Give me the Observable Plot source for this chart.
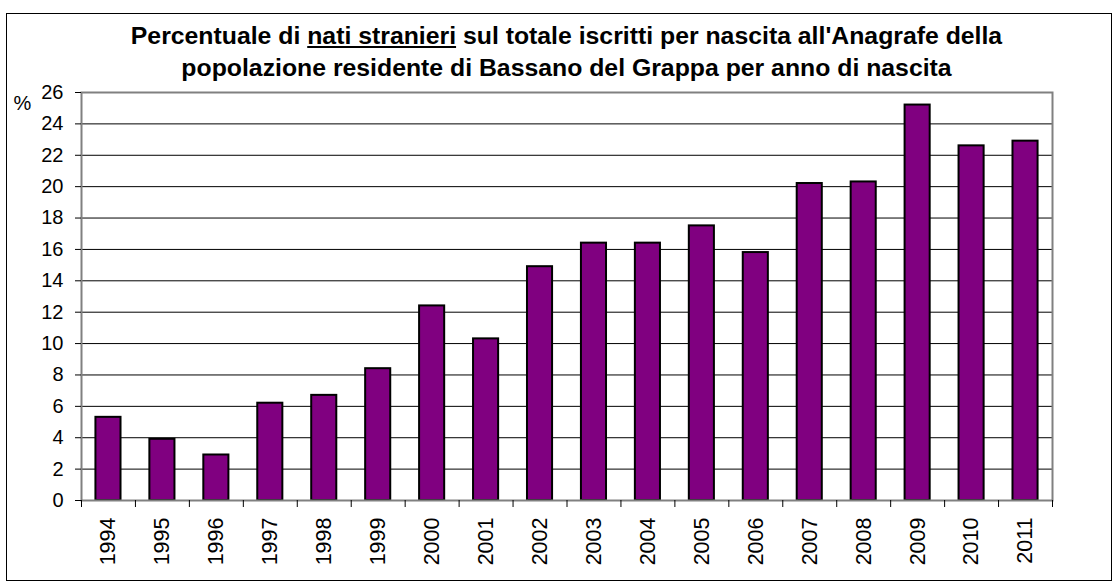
<!DOCTYPE html>
<html>
<head>
<meta charset="utf-8">
<script src="https://cdn.jsdelivr.net/npm/d3@7"></script>
<script src="https://cdn.jsdelivr.net/npm/@observablehq/plot@0.6"></script>
<style>
  html, body { margin: 0; padding: 0; background: #fff; overflow: hidden; }
  #wrap { position: relative; width: 1117px; height: 584px; font-family: "Liberation Sans", Arial, sans-serif; }
  #border { position: absolute; left: 6px; top: 13px; width: 1104px; height: 566px; border: 1px solid #000; pointer-events: none; }
  #title { position: absolute; left: 0; top: 20px; width: 1133px; text-align: center; font-weight: bold; font-size: 24.8px; line-height: 32px; color: #000; white-space: nowrap; }
  #chart { position: absolute; left: 0; top: 0; }
</style>
</head>
<body>
<div id="wrap">
  <div id="chart"></div>
  <div id="border"></div>
  <div id="title">Percentuale di <u>nati stranieri</u> sul totale iscritti per nascita all'Anagrafe della<br>popolazione residente di Bassano del Grappa per anno di nascita</div>
</div>
<script>
const years = ["1994","1995","1996","1997","1998","1999","2000","2001","2002","2003","2004","2005","2006","2007","2008","2009","2010","2011"];
const values = [5.3, 3.9, 2.9, 6.2, 6.7, 8.4, 12.4, 10.3, 14.9, 16.4, 16.4, 17.5, 15.8, 20.2, 20.3, 25.2, 22.6, 22.9];
const yTicks = d3.range(0, 27, 2);

const data = years.map((y, i) => ({year: y, i, value: values[i]}));
const barFrac = 0.465; // bar width as a fraction of the category slot
const half = barFrac / 2;

const plot = Plot.plot({
  width: 1117,
  height: 584,
  marginLeft: 81,
  marginRight: 65,
  marginTop: 92,
  marginBottom: 84,
  style: {fontFamily: "'Liberation Sans', Arial, sans-serif", fontSize: "20px", color: "#000", background: "transparent"},
  x: {type: "linear", domain: [0, years.length], axis: null},
  y: {domain: [0, 26], axis: null},
  marks: [
    Plot.gridY(yTicks.filter(t => t > 0 && t < 26), {stroke: "#000", strokeOpacity: 1, strokeWidth: 1}),
    Plot.rectY(data, {x1: d => d.i + 0.5 - half, x2: d => d.i + 0.5 + half, y: "value", fill: "#800080", stroke: "#000", strokeWidth: 2}),
    Plot.frame({stroke: "#808080", strokeWidth: 2}),
    Plot.axisY(yTicks, {anchor: "left", tickSize: 6, tickPadding: 12, stroke: "#000", fontSize: 20, label: null}),
    Plot.axisX(d3.range(years.length + 1), {anchor: "bottom", tickSize: 7, tickFormat: () => "", stroke: "#000", label: null}),
    Plot.axisX(d3.range(years.length).map(i => i + 0.5), {anchor: "bottom", tickSize: 0, tickPadding: 17, tickRotate: -90, tickFormat: v => years[Math.floor(v)], fontSize: 21.5, label: null}),
    Plot.text(["%"], {frameAnchor: "top-left", dx: -68, dy: 11, textAnchor: "start", lineAnchor: "middle", fontSize: 20})
  ]
});
document.getElementById("chart").appendChild(plot);
</script>
</body>
</html>
